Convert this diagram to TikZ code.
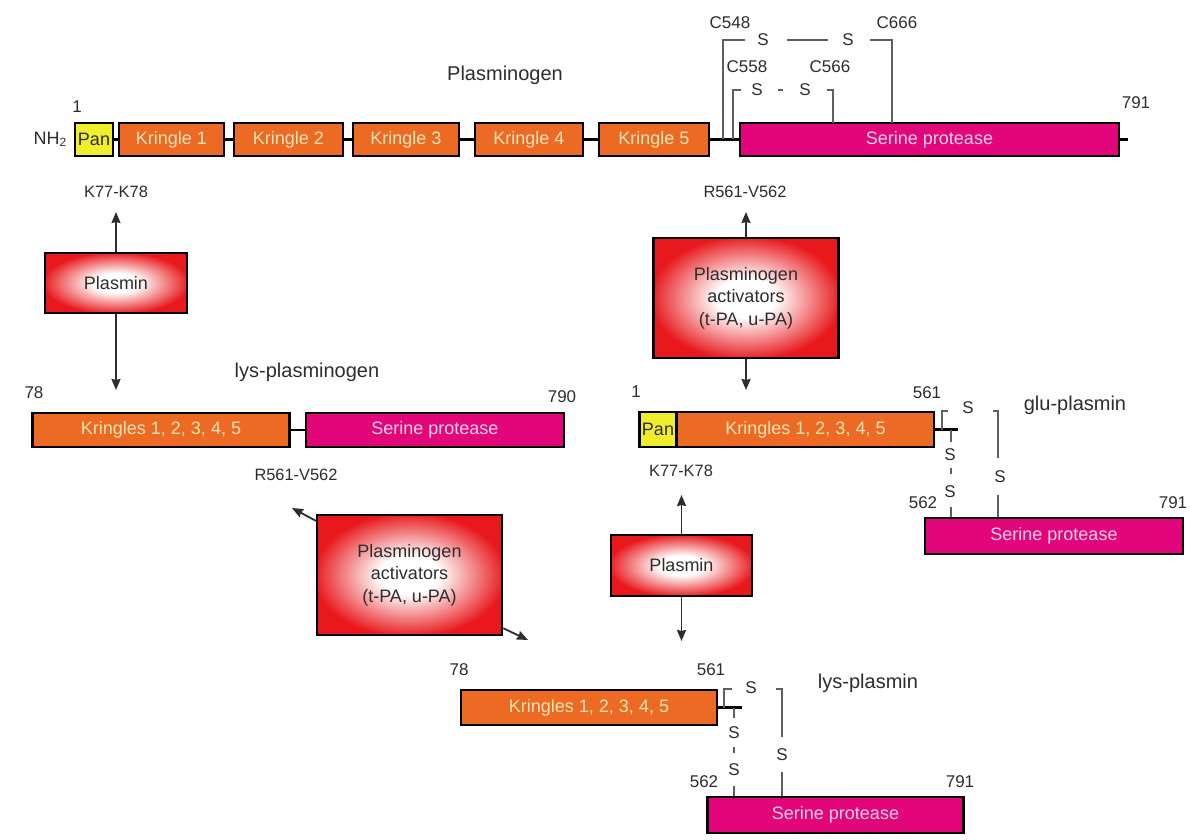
\documentclass[tikz,border=0pt]{standalone}
\usepackage{fontspec}
\setmainfont{Liberation Sans}
\usepackage{tikz}
\usetikzlibrary{arrows.meta, positioning}
\definecolor{kringorange}{RGB}{236,106,36}
\definecolor{kringtext}{RGB}{252,228,180}
\definecolor{serpink}{RGB}{226,6,122}
\definecolor{sertext}{RGB}{252,210,232}
\definecolor{panyellow}{RGB}{240,238,44}
\definecolor{enzred}{RGB}{232,24,28}
\definecolor{mydark}{RGB}{45,45,45}
\definecolor{bondgray}{RGB}{95,95,95}
\pgfdeclareradialshading{enzglow}{\pgfpoint{0bp}{0bp}}{color(0bp)=(white); color(8bp)=(white); color(26bp)=(enzred); color(50bp)=(enzred)}
\tikzset{
  protbox/.style={rectangle, draw=black, line width=1.2pt, inner sep=0pt,
    minimum height=16.5pt, font=\fontsize{9}{10}\selectfont},
  kringle/.style={protbox, fill=kringorange, text=kringtext},
  serine/.style={protbox, fill=serpink, text=sertext},
  pan/.style={protbox, fill=panyellow, text=mydark},
  enzyme/.style={rectangle, draw=black, line width=1.2pt, shading=enzglow,
    align=center, text=mydark, inner sep=0pt,
    font=\fontsize{9}{11.25}\selectfont},
  numlabel/.style={text=mydark, inner sep=1pt, font=\fontsize{8.5}{9}\selectfont},
  cutlabel/.style={text=mydark, inner sep=1pt, font=\fontsize{8.2}{9}\selectfont},
  title/.style={text=mydark, inner sep=1pt, font=\fontsize{10}{11}\selectfont},
  sulfur/.style={text=mydark, inner sep=0.5pt, font=\fontsize{8.5}{9}\selectfont},
  arrow/.style={-{Stealth[length=5.5pt, width=4.5pt, inset=0.5pt]}, line width=0.9pt, color=mydark},
  chain/.style={line width=1.1pt, color=black},
  ssbond/.style={line width=0.6pt, color=bondgray}
}

\begin{document}
\begin{tikzpicture}[x=0.5pt, y=-0.5pt]
  \fill[white] (0,0) rectangle (1190,840);
  \useasboundingbox (0,0) rectangle (1190,840);

  % plasminogen
  \node[pan, minimum width=19pt] (pgpan) at (94,139.5) {Pan};
  \node[kringle, minimum width=52.5pt] (pgka) at (171.5,139.5) {Kringle 1};
  \node[kringle, minimum width=54.5pt] (pgkb) at (288.5,139.5) {Kringle 2};
  \node[kringle, minimum width=53pt] (pgkc) at (406,139.5) {Kringle 3};
  \node[kringle, minimum width=54pt] (pgkd) at (529,139.5) {Kringle 4};
  \node[kringle, minimum width=55pt] (pgke) at (654,139.5) {Kringle 5};
  \node[serine, minimum width=189.5pt] (pgsp) at (929.5,139.5) {Serine protease};
  \coordinate (pgend) at (1128,139.5);
  \foreach \a/\b in {pgpan/pgka, pgka/pgkb, pgkb/pgkc, pgkc/pgkd, pgkd/pgke, pgke/pgsp}
    \draw[chain] (\a.east) -- (\b.west);
  \draw[chain] (pgsp.east) -- (pgend);
  \node[numlabel, font=\fontsize{9}{10}\selectfont, left=2pt of pgpan] (pgnh) {NH\textsubscript{2}};
  \node[numlabel] (pgfirst) at (77,107) {1};
  \node[numlabel] (pglast) at (1136,103) {791};
  \node[title] (pgname) at (505,75) {Plasminogen};

  \node[numlabel] (cysa) at (730,23) {C548};
  \node[numlabel] (cysb) at (897,23) {C666};
  \node[numlabel] (cysc) at (747,67) {C558};
  \node[numlabel] (cysd) at (830,67) {C566};
  \node[sulfur] (pgsa) at (763,40) {S};
  \node[sulfur] (pgsb) at (848,40) {S};
  \node[sulfur] (pgsc) at (757,90) {S};
  \node[sulfur] (pgsd) at (805,90) {S};
  \draw[ssbond] (745,40) -- (723,40) -- (723,139.5);
  \draw[ssbond] (787,40) -- (828,40);
  \draw[ssbond] (870,40) -- (892,40) -- (892,123);
  \draw[ssbond] (741,90) -- (733,90) -- (733,139.5);
  \draw[ssbond] (778,90) -- (783,90);
  \draw[ssbond] (827,90) -- (833,90) -- (833,123);

  % plasmin cleavage -> lys-plasminogen
  \node[enzyme, minimum width=71pt, minimum height=30pt] (plasa) at (116,283) {Plasmin};
  \coordinate (plasaup) at (116,212);
  \coordinate (plasadn) at (116,390);
  \node[cutlabel] (cuta) at (116,192) {K77-K78};
  \draw[arrow] (plasa.north) -- (plasaup);
  \draw[arrow] (plasa.south) -- (plasadn);

  \node[title] (lpgname) at (307,372) {lys-plasminogen};
  \node[numlabel] (lpgfirst) at (34,393) {78};
  \node[numlabel] (lpglast) at (562,397) {790};
  \node[kringle, minimum width=128.5pt, minimum height=17pt] (lpgk) at (161,430) {Kringles 1, 2, 3, 4, 5};
  \node[serine, minimum width=129pt, minimum height=17pt] (lpgsp) at (435,430) {Serine protease};
  \draw[chain] (lpgk.east) -- (lpgsp.west);

  % activators -> glu-plasmin
  \node[enzyme, minimum width=92.5pt, minimum height=60pt] (paa) at (746,298) {Plasminogen\\activators\\(t-PA, u-PA)};
  \coordinate (paaup) at (746,212);
  \coordinate (paadn) at (746,390);
  \node[cutlabel] (cutb) at (745,192) {R561-V562};
  \draw[arrow] (paa.north) -- (paaup);
  \draw[arrow] (paa.south) -- (paadn);

  \node[numlabel] (gpmfirst) at (636,392) {1};
  \node[pan, minimum width=18.5pt, minimum height=17.5pt] (gpmpan) at (658,429.5) {Pan};
  \node[kringle, minimum width=128.5pt, minimum height=17.5pt] (gpmk) at (805.5,429.5) {Kringles 1, 2, 3, 4, 5};
  \coordinate (gpmend) at (958,429.5);
  \draw[chain] (gpmk.east) -- (gpmend);
  \node[numlabel] (gpmmid) at (927,393) {561};
  \node[title] (gpmname) at (1075,405) {glu-plasmin};
  \node[sulfur] (gpmsa) at (968,408) {S};
  \node[sulfur] (gpmsb) at (1000,477) {S};
  \node[sulfur] (gpmsc) at (950,455) {S};
  \node[sulfur] (gpmsd) at (950,492) {S};
  \draw[ssbond] (948,411) -- (942,411) -- (942,429.5);
  \draw[ssbond] (993,411) -- (998,411) -- (998,458);
  \draw[ssbond] (998,495) -- (998,518);
  \draw[ssbond] (951,429.5) -- (951,442);
  \draw[ssbond] (951,468) -- (951,474);
  \draw[ssbond] (951,507) -- (951,518);
  \node[numlabel] (gpmsecond) at (923,503) {562};
  \node[numlabel] (gpmlast) at (1173,503) {791};
  \node[serine, minimum width=129pt, minimum height=18pt] (gpmsp) at (1054,536) {Serine protease};

  % activators on lys-plasminogen
  \node[enzyme, minimum width=92.5pt, minimum height=60pt] (pab) at (409.5,575) {Plasminogen\\activators\\(t-PA, u-PA)};
  \coordinate (pabup) at (292,508);
  \coordinate (pabdn) at (528,640);
  \node[cutlabel] (cutc) at (296,475) {R561-V562};
  \draw[arrow] ([yshift=-3.5pt]pab.north west) -- (pabup);
  \draw[arrow] ([yshift=4pt]pab.south east) -- (pabdn);

  % plasmin on glu-plasmin
  \node[enzyme, minimum width=70.5pt, minimum height=30.5pt] (plasb) at (681.5,565.5) {Plasmin};
  \coordinate (plasbup) at (681.5,495);
  \coordinate (plasbdn) at (681.5,641);
  \node[cutlabel] (cutd) at (681,471) {K77-K78};
  \draw[arrow] (plasb.north) -- (plasbup);
  \draw[arrow] (plasb.south) -- (plasbdn);

  % lys-plasmin
  \node[numlabel] (lpmfirst) at (459,670) {78};
  \node[kringle, minimum width=128pt, minimum height=17.5pt] (lpmk) at (589,707.5) {Kringles 1, 2, 3, 4, 5};
  \coordinate (lpmend) at (742,707.5);
  \draw[chain] (lpmk.east) -- (lpmend);
  \node[numlabel] (lpmmid) at (711,670) {561};
  \node[title] (lpmname) at (868,683) {lys-plasmin};
  \node[sulfur] (lpmsa) at (751,688) {S};
  \node[sulfur] (lpmsb) at (782,755) {S};
  \node[sulfur] (lpmsc) at (734,733) {S};
  \node[sulfur] (lpmsd) at (734,770) {S};
  \draw[ssbond] (732,689) -- (724,689) -- (724,707.5);
  \draw[ssbond] (776,689) -- (782,689) -- (782,737);
  \draw[ssbond] (782,772) -- (782,797);
  \draw[ssbond] (734,707.5) -- (734,718);
  \draw[ssbond] (734,747) -- (734,753);
  \draw[ssbond] (734,786) -- (734,797);
  \node[numlabel] (lpmsecond) at (704,782) {562};
  \node[numlabel] (lpmlast) at (960,782) {791};
  \node[serine, minimum width=128pt, minimum height=18pt] (lpmsp) at (835.5,815) {Serine protease};
\end{tikzpicture}
\end{document}
